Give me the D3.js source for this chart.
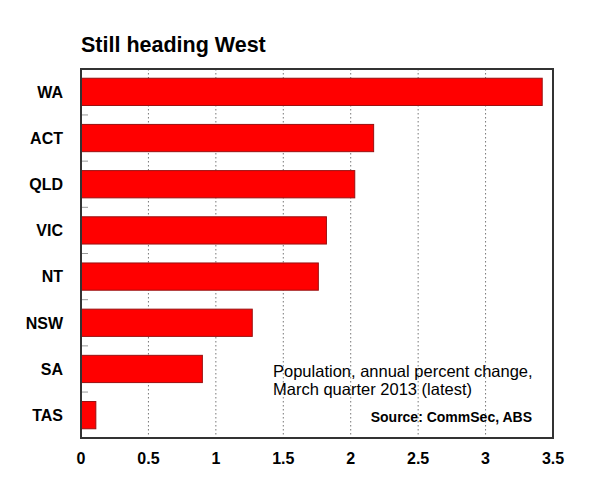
<!DOCTYPE html>
<html>
<head>
<meta charset="utf-8">
<script src="https://cdn.jsdelivr.net/npm/d3@7/dist/d3.min.js"></script>
<style>
  body { margin: 0; background: #fff; }
  svg { display: block; font-family: "Liberation Sans", Arial, sans-serif; }
</style>
</head>
<body>
<div id="chart"></div>
<script>
// === DATA ===
const states = ["WA", "ACT", "QLD", "VIC", "NT", "NSW", "SA", "TAS"];
const growth = [3.42, 2.17, 2.03, 1.82, 1.76, 1.27, 0.90, 0.11];
const xTicks = [0, 0.5, 1, 1.5, 2, 2.5, 3, 3.5];

// === LAYOUT ===
const W = 600, H = 501;
const margin = { top: 69, right: 47, bottom: 63, left: 81 };
const width = W - margin.left - margin.right;
const height = H - margin.top - margin.bottom;

const svg = d3.select("#chart").append("svg")
  .attr("width", W).attr("height", H);

const g = svg.append("g")
  .attr("transform", `translate(${margin.left},${margin.top})`);

const x = d3.scaleLinear().domain([0, 3.5]).range([0, width]);
const y = d3.scaleBand().domain(states).range([0, height]).paddingInner(0.41).paddingOuter(0.2);

const data = states.map((s, i) => ({ state: s, value: growth[i] }));

// title
svg.append("text")
  .attr("x", margin.left)
  .attr("y", 52)
  .style("font-size", "21.5px")
  .style("font-weight", "bold")
  .text("Still heading West");

// dotted gridlines
g.selectAll("line.grid")
  .data(xTicks.filter(d => d > 0 && d < 3.5))
  .join("line")
  .attr("class", "grid")
  .attr("x1", d => x(d)).attr("x2", d => x(d))
  .attr("y1", 0).attr("y2", height)
  .attr("stroke", "#777")
  .attr("stroke-width", 1)
  .attr("stroke-dasharray", "1.5,2.5");

// small ticks between bands on the left
const step = y.step();
g.selectAll("line.ytick")
  .data(states.slice(1))
  .join("line")
  .attr("class", "ytick")
  .attr("x1", 0).attr("x2", 7)
  .attr("y1", d => y(d) - step * y.paddingInner() / 2)
  .attr("y2", d => y(d) - step * y.paddingInner() / 2)
  .attr("stroke", "#999")
  .attr("stroke-width", 1);

// bars
g.selectAll("rect.bar")
  .data(data)
  .join("rect")
  .attr("class", "bar")
  .attr("x", x(0))
  .attr("y", d => y(d.state))
  .attr("width", d => x(d.value) - x(0))
  .attr("height", y.bandwidth())
  .attr("fill", "#ff0000")
  .attr("stroke", "#9a1010")
  .attr("stroke-width", 1);

// frame
g.append("rect")
  .attr("x", 0).attr("y", 0)
  .attr("width", width).attr("height", height)
  .attr("fill", "none")
  .attr("stroke", "#333")
  .attr("stroke-width", 2);

// y labels
g.selectAll("text.ylab")
  .data(states)
  .join("text")
  .attr("class", "ylab")
  .attr("x", -18)
  .attr("y", d => y(d) + y.bandwidth() / 2)
  .attr("dy", "0.36em")
  .attr("text-anchor", "end")
  .style("font-size", "16px")
  .style("font-weight", "bold")
  .text(d => d);

// x labels
g.selectAll("text.xlab")
  .data(xTicks)
  .join("text")
  .attr("class", "xlab")
  .attr("x", d => x(d))
  .attr("y", height + 26)
  .attr("text-anchor", "middle")
  .style("font-size", "16px")
  .style("font-weight", "bold")
  .text(d => d);

// annotation
const note = svg.append("text")
  .attr("x", 273)
  .attr("y", 377)
  .style("font-size", "16.5px");
note.append("tspan").attr("x", 273).text("Population, annual percent change,");
note.append("tspan").attr("x", 273).attr("dy", 18).text("March quarter 2013 (latest)");

svg.append("text")
  .attr("x", 532)
  .attr("y", 422)
  .attr("text-anchor", "end")
  .style("font-size", "14px")
  .style("font-weight", "bold")
  .text("Source: CommSec, ABS");
</script>
</body>
</html>
